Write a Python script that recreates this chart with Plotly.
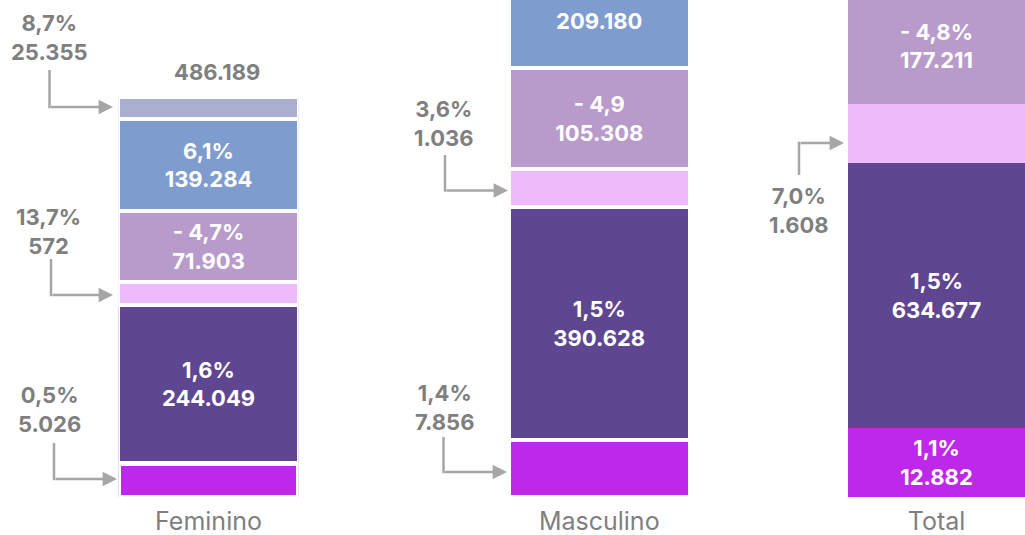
import plotly.graph_objects as go

# ---- data -------------------------------------------------------------
categories = ["Feminino", "Masculino", "Total"]

# segments from bottom to top (display heights of the original graphic)
segment_colors = ["#BE28E9", "#5F4690", "#EDBBFC", "#B89BCA", "#7F9CCF", "#AAAFD0"]

fem_heights = [34, 158, 23, 71, 92, 22]
fem_labels = ["", "1,6%<br>244.049", "", "- 4,7%<br>71.903", "6,1%<br>139.284", ""]

masc_heights = [57, 233, 38, 101, 95]
masc_labels = ["", "1,5%<br>390.628", "", "- 4,9<br>105.308", "209.180"]

tot_heights = [69, 265, 59, 116]
tot_labels = ["1,1%<br>12.882", "1,5%<br>634.677", "", "- 4,8%<br>177.211"]

callout_labels = ["8,7%<br>25.355", "13,7%<br>572", "0,5%<br>5.026",
                  "3,6%<br>1.036", "1,4%<br>7.856", "7,0%<br>1.608"]
fem_total_label = "486.189"

# ---- layout helpers ---------------------------------------------------
W, H = 1025, 535
PLOT_H = 497
GRAY = "#7F7F7F"
ARROW = "#A6A6A6"
FONT = "Inter"


def px(x, y):
    return x / W, (PLOT_H - y) / PLOT_H


series = [(fem_heights, fem_labels), (masc_heights, masc_labels), (tot_heights, tot_labels)]
axis_ids = ["x", "x2", "x3"]
domains = [(118.25, 298.75), (508.5, 690), (848, 1025)]
line_widths = [3.5, 4, 0]

fig = go.Figure()

for i, cat in enumerate(categories):
    heights, labels = series[i]
    for j, h in enumerate(heights):
        lw = line_widths[i]
        if i == 0 and j == 0:
            lw = 5
        fig.add_trace(go.Bar(
            x=[cat], y=[h], text=[labels[j]],
            xaxis=axis_ids[i], yaxis="y",
            width=1,
            marker=dict(color=segment_colors[j], line=dict(color="white", width=lw)),
            textposition="inside", insidetextanchor="middle",
            constraintext="none",
            textfont=dict(family=FONT, size=22, color="white", weight="bold"),
            showlegend=False, hoverinfo="skip",
        ))

axis_style = dict(range=[-0.5, 0.5], anchor="y", showgrid=False, zeroline=False,
                  showline=False, ticks="", fixedrange=True, automargin=False,
                  tickfont=dict(family=FONT, size=25, color=GRAY),
                  ticklabelstandoff=7)

fig.update_layout(
    width=W, height=H,
    margin=dict(l=0, r=0, t=0, b=H - PLOT_H),
    barmode="stack",
    plot_bgcolor="white", paper_bgcolor="white",
    xaxis=dict(domain=[domains[0][0] / W, domains[0][1] / W], **axis_style),
    xaxis2=dict(domain=[domains[1][0] / W, domains[1][1] / W], **axis_style),
    xaxis3=dict(domain=[domains[2][0] / W, domains[2][1] / W], **axis_style),
    yaxis=dict(range=[0, PLOT_H], visible=False, fixedrange=True, automargin=False),
)

# callouts: label centre, elbow line start, corner, arrow tip
callout_geo = [
    ((49.5, 38), (49.5, 70), (49.5, 107), 113),
    ((48, 231), (51, 259), (51, 295), 113),
    ((49, 409), (54, 443), (54, 479), 117),
    ((444, 124), (445, 155), (445, 190.5), 508),
    ((444.5, 407.5), (443.5, 437), (443.5, 472), 507),
    ((799, 210.7), (799, 175), (799, 143), 844),
]

for text, (lab, start, corner, tip_x) in zip(callout_labels, callout_geo):
    lx, ly = px(*lab)
    fig.add_annotation(x=lx, y=ly, xref="paper", yref="paper", text=text,
                       xanchor="center", yanchor="middle",
                       showarrow=False, align="center",
                       font=dict(family=FONT, size=22, color=GRAY, weight="bold"))
    overlap = 1.25 if corner[1] > start[1] else -1.25
    x0, y0 = px(*start)
    x1, y1 = px(corner[0], corner[1] + overlap)
    fig.add_shape(type="line", xref="paper", yref="paper", x0=x0, y0=y0, x1=x1, y1=y1,
                  line=dict(color=ARROW, width=2.5), layer="above")
    tx, ty = px(tip_x, corner[1])
    fig.add_annotation(x=tx, y=ty, xref="paper", yref="paper", text="",
                       showarrow=True, ax=corner[0] - tip_x, ay=0,
                       arrowhead=2, arrowsize=1.15, arrowwidth=2.5,
                       arrowcolor=ARROW, standoff=0)

tx, ty = px(216.5, 72)
fig.add_annotation(x=tx, y=ty, xref="paper", yref="paper", text=fem_total_label,
                   xanchor="center", yanchor="middle", showarrow=False,
                   font=dict(family=FONT, size=22, color=GRAY, weight="bold"))

fig.write_html("out.html", config={"displayModeBar": False},
               post_script="document.body.style.margin='0';"
                           "document.body.style.overflow='hidden';")
